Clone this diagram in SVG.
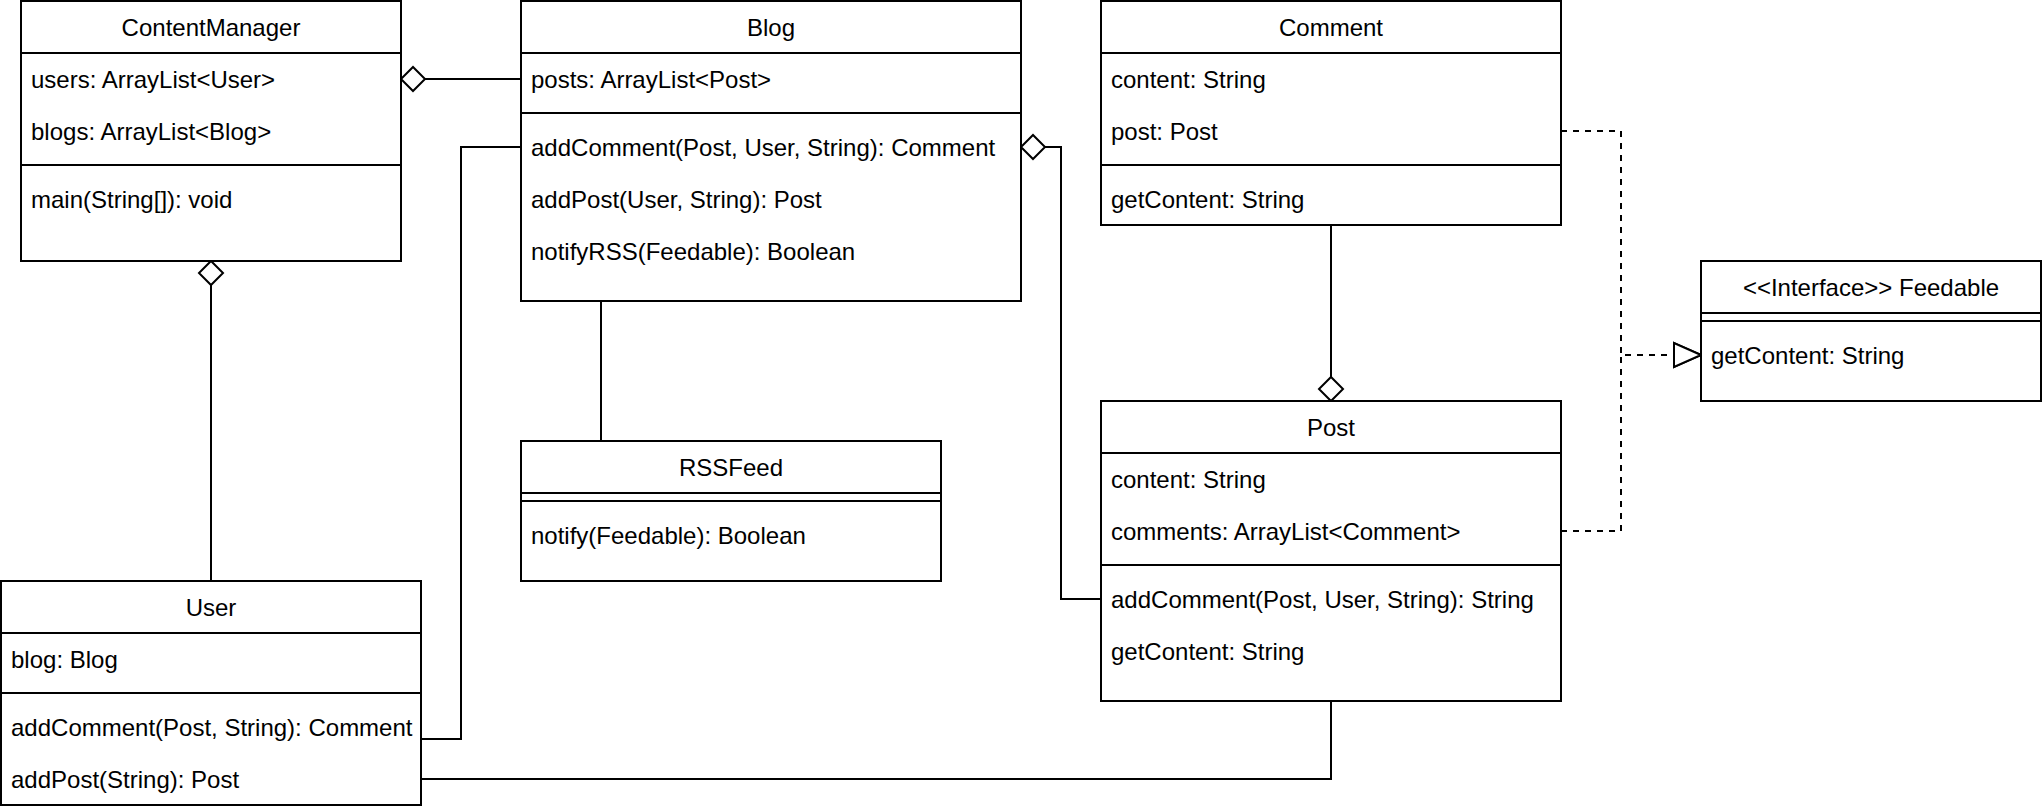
<svg xmlns="http://www.w3.org/2000/svg" width="2042" height="812" viewBox="0 0 2042 812">
<style>
  .box { fill: #ffffff; stroke: #000000; stroke-width: 2; }
  .sep { stroke: #000000; stroke-width: 2; fill: none; }
  .t { font-family: "Liberation Sans", Arial, Helvetica, sans-serif; font-size: 24px; fill: #000000; }
  .title { text-anchor: middle; }
  .edge { fill: none; stroke: #000000; stroke-width: 2; }
  .dashed { stroke-dasharray: 6 6; }
</style>
<defs>
  <marker id="diamond" markerUnits="userSpaceOnUse" viewBox="-28 -15 30 30" markerWidth="30" markerHeight="30" refX="0" refY="0" orient="auto" overflow="visible">
    <path d="M0,0 L-12,-12 L-24,0 L-12,12 Z" fill="#ffffff" stroke="#000000" stroke-width="2"/>
  </marker>
  <marker id="triangle" markerUnits="userSpaceOnUse" viewBox="-30 -15 32 30" markerWidth="32" markerHeight="30" refX="0" refY="0" orient="auto" overflow="visible">
    <path d="M0,0 L-27,-12 L-27,12 Z" fill="#ffffff" stroke="#000000" stroke-width="2" stroke-dasharray="none"/>
  </marker>
</defs>
<rect width="2042" height="812" fill="#ffffff"/>

<g id="connectors">
  <path class="edge" d="M521,79 L401,79" marker-end="url(#diamond)"/>
  <path class="edge" d="M211,581 L211,261" marker-end="url(#diamond)"/>
  <path class="edge" d="M521,147 L461,147 L461,739 L421,739"/>
  <path class="edge" d="M601,301 L601,441"/>
  <path class="edge" d="M1101,599 L1061,599 L1061,147 L1021,147" marker-end="url(#diamond)"/>
  <path class="edge" d="M1331,225 L1331,401" marker-end="url(#diamond)"/>
  <path class="edge" d="M1331,701 L1331,779 L421,779"/>
  <path class="edge dashed" d="M1561,131 L1621,131 L1621,355 L1701,355" marker-end="url(#triangle)"/>
  <path class="edge dashed" d="M1561,531 L1621,531 L1621,355 L1701,355" marker-end="url(#triangle)"/>
</g>

<g id="ContentManager">
  <rect class="box" x="21" y="1" width="380" height="260"/>
  <line class="sep" x1="21" y1="53" x2="401" y2="53"/>
  <line class="sep" x1="21" y1="165" x2="401" y2="165"/>
  <text class="t title" x="211" y="36">ContentManager</text>
  <text class="t" x="31" y="88">users: ArrayList&lt;User&gt;</text>
  <text class="t" x="31" y="140">blogs: ArrayList&lt;Blog&gt;</text>
  <text class="t" x="31" y="208">main(String[]): void</text>
</g>

<g id="Blog">
  <rect class="box" x="521" y="1" width="500" height="300"/>
  <line class="sep" x1="521" y1="53" x2="1021" y2="53"/>
  <line class="sep" x1="521" y1="113" x2="1021" y2="113"/>
  <text class="t title" x="771" y="36">Blog</text>
  <text class="t" x="531" y="88">posts: ArrayList&lt;Post&gt;</text>
  <text class="t" x="531" y="156">addComment(Post, User, String): Comment</text>
  <text class="t" x="531" y="208">addPost(User, String): Post</text>
  <text class="t" x="531" y="260">notifyRSS(Feedable): Boolean</text>
</g>

<g id="Comment">
  <rect class="box" x="1101" y="1" width="460" height="224"/>
  <line class="sep" x1="1101" y1="53" x2="1561" y2="53"/>
  <line class="sep" x1="1101" y1="165" x2="1561" y2="165"/>
  <text class="t title" x="1331" y="36">Comment</text>
  <text class="t" x="1111" y="88">content: String</text>
  <text class="t" x="1111" y="140">post: Post</text>
  <text class="t" x="1111" y="208">getContent: String</text>
</g>

<g id="Feedable">
  <rect class="box" x="1701" y="261" width="340" height="140"/>
  <line class="sep" x1="1701" y1="313" x2="2041" y2="313"/>
  <line class="sep" x1="1701" y1="321" x2="2041" y2="321"/>
  <text class="t title" x="1871" y="296">&lt;&lt;Interface&gt;&gt; Feedable</text>
  <text class="t" x="1711" y="364">getContent: String</text>
</g>

<g id="RSSFeed">
  <rect class="box" x="521" y="441" width="420" height="140"/>
  <line class="sep" x1="521" y1="493" x2="941" y2="493"/>
  <line class="sep" x1="521" y1="501" x2="941" y2="501"/>
  <text class="t title" x="731" y="476">RSSFeed</text>
  <text class="t" x="531" y="544">notify(Feedable): Boolean</text>
</g>

<g id="Post">
  <rect class="box" x="1101" y="401" width="460" height="300"/>
  <line class="sep" x1="1101" y1="453" x2="1561" y2="453"/>
  <line class="sep" x1="1101" y1="565" x2="1561" y2="565"/>
  <text class="t title" x="1331" y="436">Post</text>
  <text class="t" x="1111" y="488">content: String</text>
  <text class="t" x="1111" y="540">comments: ArrayList&lt;Comment&gt;</text>
  <text class="t" x="1111" y="608">addComment(Post, User, String): String</text>
  <text class="t" x="1111" y="660">getContent: String</text>
</g>

<g id="User">
  <rect class="box" x="1" y="581" width="420" height="224"/>
  <line class="sep" x1="1" y1="633" x2="421" y2="633"/>
  <line class="sep" x1="1" y1="693" x2="421" y2="693"/>
  <text class="t title" x="211" y="616">User</text>
  <text class="t" x="11" y="668">blog: Blog</text>
  <text class="t" x="11" y="736">addComment(Post, String): Comment</text>
  <text class="t" x="11" y="788">addPost(String): Post</text>
</g>
</svg>
